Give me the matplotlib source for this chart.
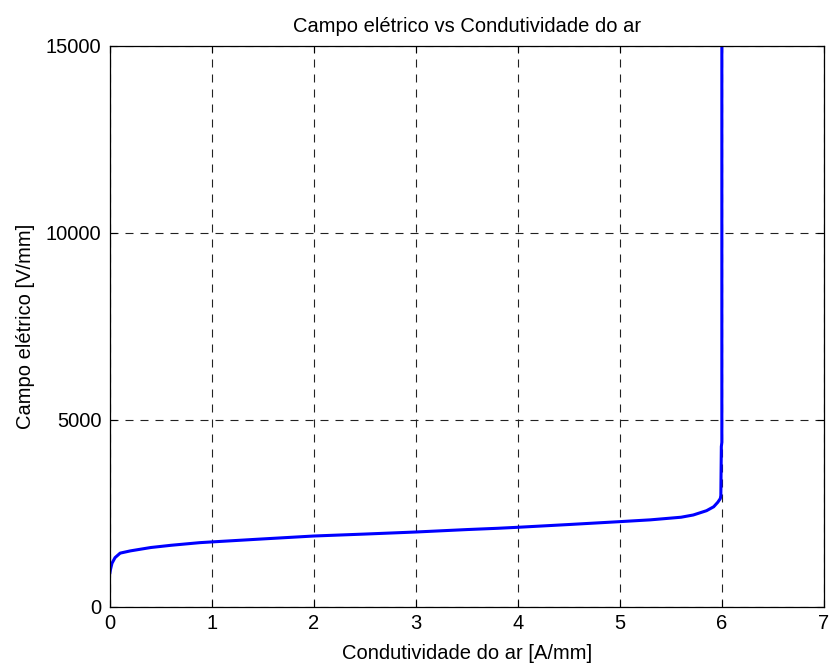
import matplotlib
matplotlib.use("Agg")
import matplotlib.pyplot as plt

# Conductivity of air [A/mm] and electric field [V/mm]
condutividade = [0.0, 0.005, 0.02, 0.05, 0.1, 0.2, 0.4, 0.6, 0.88, 1.0, 1.5, 2.0,
                 2.5, 3.0, 3.5, 3.8, 4.0, 4.5, 5.0, 5.3, 5.6, 5.72, 5.85, 5.92,
                 5.96, 5.985, 5.99, 5.995, 6.0, 6.0]
campo = [920, 1000, 1170, 1320, 1440, 1500, 1590, 1650, 1720, 1740, 1820, 1898,
         1950, 2005, 2070, 2104, 2131, 2205, 2282, 2330, 2400, 2460, 2575, 2680,
         2800, 2900, 2980, 4290, 4400, 15000]

xticks = [0, 1, 2, 3, 4, 5, 6, 7]
yticks = [0, 5000, 10000, 15000]

plt.rcParams['font.family'] = ['Liberation Sans', 'DejaVu Sans']
fs = 14.5

fig = plt.figure(figsize=(8.33, 6.66), dpi=100)
ax = fig.add_axes([0.132, 0.0886, 0.857, 0.8424])

ax.plot(condutividade, campo, color='#0000ff', linewidth=2.2, solid_joinstyle='round')

ax.set_xlim(0, 7)
ax.set_ylim(0, 15000)
ax.set_xticks(xticks)
ax.set_yticks(yticks)
ax.set_xticklabels([str(t) for t in xticks])
ax.set_yticklabels([str(t) for t in yticks])

ax.grid(True, color='#222222', linestyle=(0, (7.2, 6.3)), linewidth=0.8)
ax.tick_params(direction='in', top=True, right=True, length=5, width=0.8,
               labelsize=fs)
ax.tick_params(axis='x', pad=5)
ax.tick_params(axis='y', pad=6)
for s in ax.spines.values():
    s.set_linewidth(0.9)

ax.set_title('Campo elétrico vs Condutividade do ar', fontsize=fs, pad=10)
ax.set_xlabel('Condutividade do ar [A/mm]', fontsize=fs, labelpad=8)
ax.set_ylabel('Campo elétrico [V/mm]', fontsize=fs, labelpad=8)

fig.savefig('out.png', dpi=100)
